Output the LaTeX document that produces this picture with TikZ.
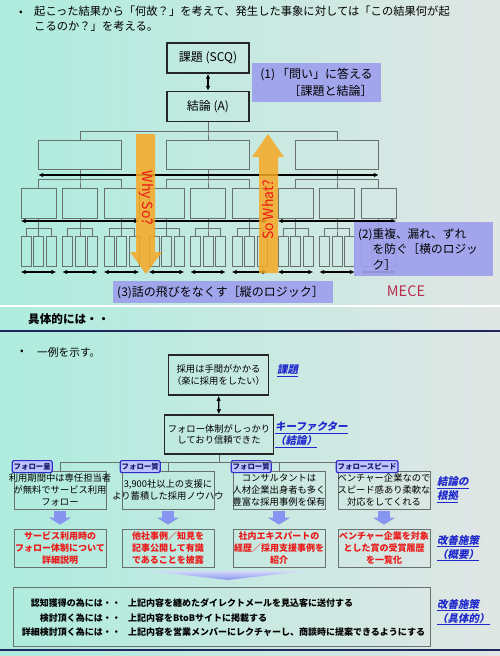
\documentclass[tikz,border=0pt]{standalone}
\usepackage{fontspec}
\setmainfont{Noto Sans CJK JP}
\newfontfamily\slantjp[FakeSlant=0.2]{Noto Sans CJK JP}
\usetikzlibrary{arrows.meta,positioning}
\definecolor{slideL}{RGB}{174,236,222}
\definecolor{slideR}{RGB}{224,230,228}
\definecolor{lav}{RGB}{158,160,236}
\definecolor{treegray}{RGB}{105,112,112}
\definecolor{orng}{RGB}{246,168,36}
\definecolor{wsred}{RGB}{235,25,25}
\definecolor{mece}{RGB}{185,45,80}
\definecolor{lblue}{RGB}{30,40,205}
\definecolor{badgefill}{RGB}{190,195,252}
\definecolor{badgeline}{RGB}{45,45,200}
\definecolor{badgetext}{RGB}{20,20,110}
\definecolor{fatblue}{RGB}{135,148,240}
\definecolor{navy}{RGB}{30,40,95}
\newcommand{\fs}[2]{\fontsize{#1}{#2}\selectfont}
\tikzset{
  treebox/.style={draw=treegray, line width=0.7pt, inner sep=0pt},
  conn/.style={draw=treegray, line width=0.7pt},
  dbl/.style={line width=1.3pt, {Latex[length=5pt,width=4.5pt]}-{Latex[length=5pt,width=4.5pt]}},
  keybox/.style={draw=black!85, line width=1.3pt, minimum width=82pt, minimum height=30pt, font=\fs{12}{14}},
  lavbox/.style={fill=lav, fill opacity=0.92, text opacity=1, inner xsep=4pt, font=\fs{11.7}{15.5}},
  probbox/.style={draw=black!85, line width=1.5pt, align=center, font=\fs{9.3}{11.8}},
  basebox/.style={draw=treegray, line width=0.8pt, minimum width=92pt, minimum height=38pt, inner sep=0pt},
  basetext/.style={align=center, inner sep=0pt, font=\fs{9.3}{12}},
  redtext/.style={align=center, inner sep=0pt, text=wsred, font=\bfseries\fs{9}{12}},
  badge/.style={draw=badgeline, fill=badgefill, line width=1.2pt, rounded corners=2pt, inner xsep=1.5pt, inner ysep=1pt, minimum height=12pt, text=badgetext, font=\bfseries\fs{7.4}{8}},
  fatarrow/.style={draw=fatblue, line width=12pt, -{Triangle[length=7pt,width=22pt]}},
  bluelabel/.style={text=lblue, align=left, inner sep=0pt, font=\slantjp\bfseries\fs{10.5}{14}},
  plantext/.style={inner sep=0pt, font=\bfseries\fs{9}{10}}
}
\newcommand{\FollowCol}[5]{%
  \node[basebox] (c#1) at (#2,490) {};
  \node[basetext] (ct#1) at (c#1) {#4};
  \draw[conn] (kf.south) -- ++(0,8) -| (c#1.north);
  \node[badge, anchor=west] (g#1) at ([shift={(-2,-4)}]c#1.north west) {#3};
  \node[basebox] (r#1) at (#2,548) {};
  \node[redtext] (rt#1) at (r#1) {#5};
  \draw[fatarrow] ([yshift=-2pt]c#1.south) -- ([yshift=4pt]r#1.north);
}
\begin{document}
\begin{tikzpicture}[x=1pt,y=-1pt]
    \useasboundingbox (0,0) rectangle (500,656);
    \shade[left color=slideL, right color=slideR] (0,0) rectangle (500,305);
    \fill[white] (0,305) rectangle (500,307.5);
    \shade[left color=slideL, right color=slideR] (0,307.5) rectangle (500,656);
    % upper slide
    \node[font=\fs{10.5}{15}] (bul1) at (21,13) {•};
    \node[anchor=north west, align=left, inner sep=0pt, font=\fs{11.3}{15}] (lead) at (34,6)
      {起こった結果から「何故？」を考えて、発生した事象に対しては「この結果何が起\\こるのか？」を考える。};
    \node[keybox] (scq) at (208,58) {課題 (SCQ)};
    \node[keybox] (ans) at (208,106.5) {結論 (A)};
    \draw[dbl] (scq) -- (ans);
    \node[lavbox, minimum width=129pt, minimum height=39pt, align=right, font=\fs{12}{17}] (q1) at (316.5,82.5)
      {(1)\,「問い」に答える\\［課題と結論］};
    \foreach \i/\cx in {1/80,2/208,3/337} {
      \node[treebox, minimum width=83pt, minimum height=29pt] (t\i) at (\cx,154.5) {};
      \draw[conn] (ans.south) -- ++(0,9) -| (t\i.north);
      \foreach \j/\dx in {1/-41.5,2/0,3/41.5} {
        \node[treebox, minimum width=35pt, minimum height=30pt] (s\i\j) at (\cx+\dx,203) {};
        \draw[conn] (t\i.south) -- ++(0,10) -| (s\i\j.north);
        \foreach \k/\ex in {1/-12.5,2/0,3/12.5} {
          \node[treebox, minimum width=10pt, minimum height=30pt] (l\i\j\k) at (\cx+\dx+\ex,251) {};
          \draw[conn] (s\i\j.south) -- ++(0,10) -| (l\i\j\k.north);
        }
        \draw[dbl] (l\i\j1.west |- 0,272) -- (l\i\j3.east |- 0,272);
      }
      \draw[dbl] (s\i1.west |- 0,221) -- (s\i3.east |- 0,221);
    }
    \draw[dbl] (t1.west |- 0,175) -- (t3.east |- 0,175);
    \fill[orng, opacity=0.85] (136,134) -- (155,134) -- (155,252) -- (162,252) -- (146,274)
      -- (130,252) -- (136,252) -- cycle;
    \fill[orng, opacity=0.85] (259,273) -- (278,273) -- (278,157) -- (284,157) -- (268,134)
      -- (252,157) -- (259,157) -- cycle;
    \node[rotate=-90, text=wsred, font=\fs{14}{14}] (why) at (146,198) {Why So?};
    \node[rotate=90, text=wsred, font=\fs{14}{14}] (what) at (268,210) {So What?};
    \node[lavbox, anchor=north west, text width=131pt, minimum height=54pt, align=left] (q2) at (354,222)
      {(2)重複、漏れ、ずれ\\\hphantom{(2)}を防ぐ［横のロジッ\\\hphantom{(2)}ク］};
    \node[lavbox, anchor=north west, text width=212pt, minimum height=22pt, align=left, font=\fs{12}{14}] (q3) at (113,281)
      {(3)話の飛びをなくす［縦のロジック］};
    \node[text=mece, font=\fs{14.5}{15}] (mece) at (406,291) {MECE};
    % lower slide
    \node[anchor=west, inner sep=0pt, font=\bfseries\fs{11.6}{13}] (head) at (28,319) {具体的には・・};
    \draw[navy, line width=1.5pt] (0,331) -- (500,331);
    \node[font=\fs{10.5}{12}] (bul2) at (22,352) {•};
    \node[anchor=west, inner sep=0pt, font=\fs{10.7}{12}] (ex) at (37,352) {一例を示す。};
    \node[probbox, minimum width=97pt, minimum height=40pt] (prob) at (218.5,375)
      {採用は手間がかかる\\（楽に採用をしたい）};
    \node[probbox, minimum width=98pt, minimum height=39pt] (kf) at (219,434.5)
      {フォロー体制がしっかり\\しており信頼できた};
    \draw[dbl] (prob) -- (kf);
    \node[bluelabel, anchor=west] (lbl1) at (277,371) {\underline{課題}};
    \node[bluelabel, anchor=west] (lbl2) at (275,435) {\underline{キーファクター}\\\underline{（結論）}};
    \FollowCol{1}{60}{フォロー量}{利用期間中は専任担当者\\が無料でサービス利用\\フォロー}{サービス利用時の\\フォロー体制について\\詳細説明}
    \FollowCol{2}{168}{フォロー質}{3,900社以上の支援に\\より蓄積した採用ノウハウ}{他社事例／知見を\\記事公開して有識\\であることを披露}
    \FollowCol{3}{279}{フォロー質}{コンサルタントは\\人材企業出身者も多く\\豊富な採用事例を保有}{社内エキスパートの\\経歴／採用支援事例を\\紹介}
    \FollowCol{4}{384}{フォロースピード}{ベンチャー企業なので\\スピード感あり柔軟な\\対応をしてくれる}{ベンチャー企業を対象\\とした賞の受賞履歴\\を一覧化}
    \node[bluelabel, anchor=west] (lbl3) at (437,490) {\underline{結論の}\\\underline{根拠}};
    \node[bluelabel, anchor=west] (lbl4) at (437,548) {\underline{改善施策}\\\underline{（概要）}};
    \node[basebox, minimum width=417pt, minimum height=59pt] (plan) at (221.5,616.5) {};
    \shade[top color=fatblue!35, bottom color=fatblue] (150,571) -- (305,571) -- (228,580) -- cycle;
    \foreach \y/\lhs/\rhs [count=\r] in {603/認知獲得の為には・・/上記内容を纏めたダイレクトメールを見込客に送付する,
        618/検討頂く為には・・/上記内容をBtoBサイトに掲載する,
        632/詳細検討頂く為には・・/上記内容を営業メンバーにレクチャーし、商談時に提案できるようにする} {
      \node[plantext, anchor=east] (pl\r) at (121,\y) {\lhs};
      \node[plantext, anchor=west] (pr\r) at (128,\y) {\rhs};
    }
    \node[bluelabel, anchor=west] (lbl5) at (437,612) {\underline{改善施策}\\\underline{（具体的）}};
    \draw[navy, line width=2pt] (0,649.5) -- (500,649.5);
  \end{tikzpicture}
\end{document}
